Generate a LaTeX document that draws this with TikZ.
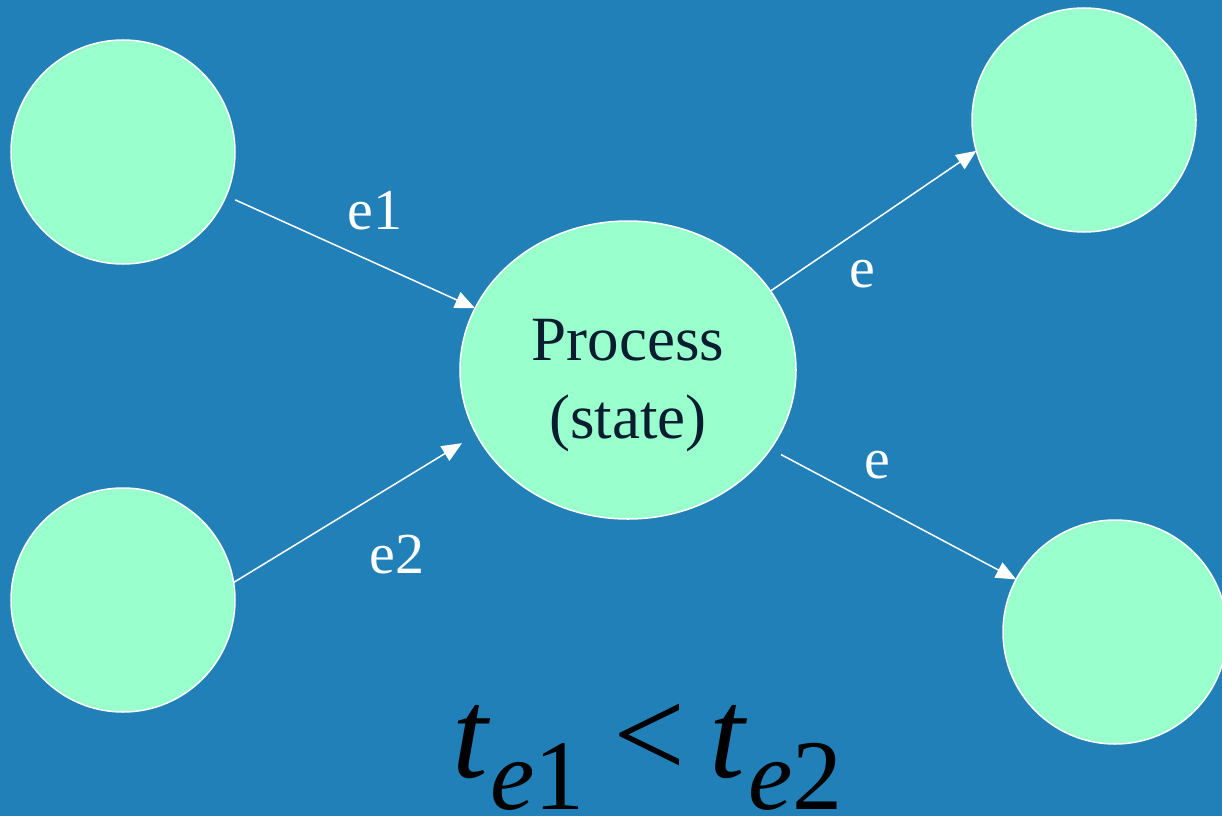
\documentclass[tikz,border=0pt]{standalone}
\usepackage{fontspec}
\setmainfont{Liberation Serif}
\usetikzlibrary{positioning, arrows.meta, shapes.geometric}

\definecolor{slideblue}{HTML}{2180B7}
\definecolor{mint}{HTML}{99FFCC}
\definecolor{inkblue}{HTML}{0A1C30}

% time with an event index
\newcommand{\tev}[1]{\textit{t}\raisebox{-32pt}{\fontsize{100}{100}\selectfont\textit{e}#1}}

\begin{document}
\begin{tikzpicture}[x=1pt, y=-1pt]
	% styles
	\tikzset{
		entity/.style={
			circle, draw=white, fill=mint, line width=1.5pt,
			minimum size=224pt, inner sep=0pt, outer sep=0pt
		},
		procbox/.style={
			ellipse, draw=white, fill=mint, line width=1.5pt,
			minimum width=336pt, minimum height=298pt,
			inner sep=0pt, outer sep=0pt
		},
		link/.style={
			white, line width=1.5pt,
			-{Triangle[length=20pt, width=17pt]}
		},
		evlabel/.style={
			text=white, anchor=base, inner sep=0pt,
			font=\fontsize{58}{58}\selectfont
		}
	}
	
	% background
	\fill[slideblue] (0,0) rectangle (1222,816);
	\useasboundingbox (0,0) rectangle (1222,816);
	
	% sources and sinks
	\node[entity] (srcA) at (123,152) {};
	\node[entity] (srcB) at (123,600) {};
	\node[entity] (dstA) at (1084,120) {};
	\node[entity] (dstB) at (1115,632) {};
	
	% the process
	\node[procbox] (proc) at (628,370) {};
	\node[text=inkblue, align=center, inner sep=0pt,
		font=\fontsize{63}{78}\selectfont] (proctext) at (628,386) {Process\\(state)};
	
	% incoming events
	\draw[link, shorten <=10pt] (srcA.-23) -- (proc.158);
	\draw[link, shorten >=17pt] (srcB.9) -- (proc.203);
	
	% outgoing events
	\draw[link] (proc.29) -- (dstA.196);
	\draw[link, shorten <=12pt] (proc.-29.5) -- (dstB.152);
	
	% event names
	\node[evlabel] (lblA) at (375,229) {e1};
	\node[evlabel] (lblB) at (397,573) {e2};
	\node[evlabel] (lblC) at (862,287) {e};
	\node[evlabel] (lblD) at (877,478) {e};
	
	% ordering of the two events
	\node[anchor=base west, inner sep=0pt, text=black,
		font=\fontsize{128}{128}\selectfont] (order) at (452,777)
		{\tev{1}\hspace{29pt}<\hspace{24pt}\tev{2}};
\end{tikzpicture}
\end{document}
